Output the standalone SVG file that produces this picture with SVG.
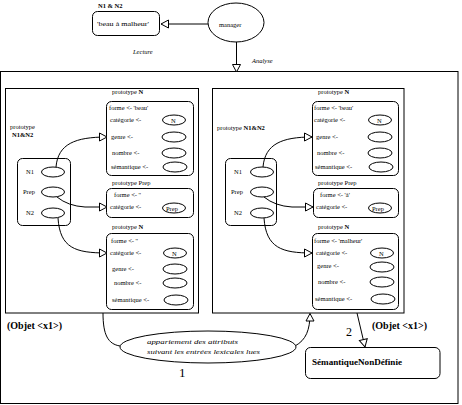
<svg xmlns="http://www.w3.org/2000/svg" width="462" height="405" viewBox="0 0 462 405">
<style>
text{font-family:"Liberation Serif","Times New Roman",serif;fill:#000}
.s{font-size:6.5px}
.b{font-weight:bold}
.i{font-style:italic}
.sh{fill:#fff;stroke:#000;stroke-width:1}
.ln{fill:none;stroke:#000;stroke-width:1}
</style>
<defs>
<marker id="a" markerUnits="userSpaceOnUse" markerWidth="10" markerHeight="10" refX="8" refY="4.5" orient="auto" overflow="visible">
<path d="M0.5,0.5 L8,4.5 L0.5,8.5 z" fill="#fff" stroke="#000"/>
</marker>
</defs>
<rect width="462" height="405" fill="#fff"/>

<g id="outer">
<rect class="sh" x="0.5" y="71.5" width="457.5" height="332"/>
</g>

<g id="connectors">
<line class="ln" x1="208" y1="24" x2="161" y2="24" marker-end="url(#a)"/>
<line class="ln" x1="236.5" y1="42" x2="236.5" y2="72" marker-end="url(#a)"/>
</g>

<g id="n1n2">
<text class="s b" x="98" y="8">N1 &amp; N2</text>
<rect class="sh" x="92.5" y="11.5" width="67" height="24" rx="5"/>
<text class="s" x="97" y="26" textLength="52" lengthAdjust="spacingAndGlyphs">'beau à malheur'</text>
</g>
<g id="manager">
<ellipse class="sh" cx="236" cy="22.5" rx="28" ry="19.5"/>
<text class="s" x="219" y="27">manager</text>
</g>
<text class="s i" x="133" y="54">Lecture</text>
<text class="s i" x="252" y="63">Analyse</text>

<g id="left">
<rect class="sh" x="5.5" y="88.5" width="193" height="224.5"/>
<text class="s" x="10" y="129">prototype</text>
<text class="s b" x="12" y="137">N1&amp;N2</text>
<g id="l-nbox">
<rect class="sh" x="17.5" y="158.5" width="53" height="67" rx="5"/>
<text class="s" x="26" y="174">N1</text>
<ellipse class="sh" cx="53" cy="172" rx="11.5" ry="5"/>
<text class="s" x="23" y="194">Prep</text>
<ellipse class="sh" cx="53" cy="192" rx="11.5" ry="5"/>
<text class="s" x="26" y="215">N2</text>
<ellipse class="sh" cx="53" cy="213" rx="11.5" ry="5"/>
</g>
<g id="l-protoN1">
<text class="s" x="112" y="94">prototype <tspan class="b">N</tspan></text>
<rect class="sh" x="106.5" y="101.5" width="87" height="74" rx="5"/>
<text class="s" x="109" y="110">forme &lt;- 'beau'</text>
<text class="s" x="110" y="122">catégorie &lt;-</text>
<ellipse class="sh" cx="174" cy="120" rx="11.5" ry="5"/>
<text class="s" x="171" y="122.5">N</text>
<text class="s" x="111" y="139">genre &lt;-</text>
<ellipse class="sh" cx="174" cy="137" rx="12" ry="5"/>
<text class="s" x="112" y="155">nombre &lt;-</text>
<ellipse class="sh" cx="174" cy="153" rx="12" ry="5"/>
<text class="s" x="111" y="169">sémantique &lt;-</text>
<ellipse class="sh" cx="175" cy="167" rx="12" ry="5"/>
</g>
<g id="l-protoPrep">
<text class="s" x="112" y="185">prototype Prep</text>
<rect class="sh" x="106.5" y="188.5" width="87" height="29" rx="5"/>
<text class="s" x="114" y="197">forme &lt;- ''</text>
<text class="s" x="110" y="209">catégorie &lt;-</text>
<ellipse class="sh" cx="174" cy="208" rx="11.5" ry="5"/>
<text class="s" x="166" y="210.5">Prep</text>
</g>
<g id="l-protoN2">
<text class="s" x="112" y="229">prototype <tspan class="b">N</tspan></text>
<rect class="sh" x="106.5" y="233.5" width="87" height="76" rx="5"/>
<text class="s" x="111" y="243">forme &lt;- ''</text>
<text class="s" x="110" y="255">catégorie &lt;-</text>
<ellipse class="sh" cx="175" cy="253" rx="11.5" ry="5"/>
<text class="s" x="172" y="255.5">N</text>
<text class="s" x="112" y="271">genre &lt;-</text>
<ellipse class="sh" cx="175" cy="269" rx="12" ry="5"/>
<text class="s" x="114" y="285">nombre &lt;-</text>
<ellipse class="sh" cx="175" cy="283" rx="12" ry="5"/>
<text class="s" x="112" y="302">sémantique &lt;-</text>
<ellipse class="sh" cx="176" cy="300" rx="12" ry="5"/>
</g>
</g>

<g id="right">
<rect class="sh" x="212.5" y="88.5" width="191.5" height="224.5"/>
<text class="s" x="217" y="130">prototype <tspan class="b">N1&amp;N2</tspan></text>
<g id="r-nbox">
<rect class="sh" x="225.5" y="158.5" width="51" height="67" rx="5"/>
<text class="s" x="234" y="174">N1</text>
<ellipse class="sh" cx="262" cy="172" rx="11.5" ry="5"/>
<text class="s" x="231" y="194">Prep</text>
<ellipse class="sh" cx="262" cy="192" rx="11.5" ry="5"/>
<text class="s" x="234" y="215">N2</text>
<ellipse class="sh" cx="262" cy="213" rx="11.5" ry="5"/>
</g>
<g id="r-protoN1">
<text class="s" x="318" y="94">prototype <tspan class="b">N</tspan></text>
<rect class="sh" x="312.5" y="101.5" width="86" height="74" rx="5"/>
<text class="s" x="314" y="110">forme &lt;- 'beau'</text>
<text class="s" x="314" y="122">catégorie &lt;-</text>
<ellipse class="sh" cx="380" cy="120" rx="11.5" ry="5"/>
<text class="s" x="377" y="122.5">N</text>
<text class="s" x="316" y="139">genre &lt;-</text>
<ellipse class="sh" cx="380" cy="137" rx="12" ry="5"/>
<text class="s" x="317" y="155">nombre &lt;-</text>
<ellipse class="sh" cx="380" cy="153" rx="12" ry="5"/>
<text class="s" x="315" y="169">sémantique &lt;-</text>
<ellipse class="sh" cx="381" cy="167" rx="12" ry="5"/>
</g>
<g id="r-protoPrep">
<text class="s" x="318" y="185">prototype Prep</text>
<rect class="sh" x="313.5" y="188.5" width="85" height="29" rx="5"/>
<text class="s" x="320" y="197">forme &lt;- 'à'</text>
<text class="s" x="316" y="209">catégorie &lt;-</text>
<ellipse class="sh" cx="380" cy="208" rx="11.5" ry="5"/>
<text class="s" x="372" y="210.5">Prep</text>
</g>
<g id="r-protoN2">
<text class="s" x="318" y="229">prototype <tspan class="b">N</tspan></text>
<rect class="sh" x="312.5" y="233.5" width="86" height="76" rx="5"/>
<text class="s" x="314" y="243">forme &lt;- 'malheur'</text>
<text class="s" x="316" y="255">catégorie &lt;-</text>
<ellipse class="sh" cx="382" cy="253" rx="11.5" ry="5"/>
<text class="s" x="379" y="255.5">N</text>
<text class="s" x="317" y="268">genre &lt;-</text>
<ellipse class="sh" cx="382" cy="267" rx="12" ry="5"/>
<text class="s" x="318" y="284">nombre &lt;-</text>
<ellipse class="sh" cx="382" cy="282" rx="12" ry="5"/>
<text class="s" x="315" y="301">sémantique &lt;-</text>
<ellipse class="sh" cx="383" cy="299" rx="12" ry="5"/>
</g>
</g>

<g id="inner-connectors">
<path class="ln" d="M56,167 C58,144 75,137 107,137" marker-end="url(#a)"/>
<path class="ln" d="M57,197 Q68,206 85,207 L107,207" marker-end="url(#a)"/>
<path class="ln" d="M58,218 C60,248 75,253 107,253" marker-end="url(#a)"/>
<path class="ln" d="M263,167 C265,144 282,137 312,137" marker-end="url(#a)"/>
<path class="ln" d="M264,197 Q275,206 292,207 L313,207" marker-end="url(#a)"/>
<path class="ln" d="M264,218 C266,248 282,253 312,253" marker-end="url(#a)"/>
<path class="ln" d="M103,313 C103,335 108,344 120,346"/>
<path class="ln" d="M295,346 C306,340 310,330 310,313.5" marker-end="url(#a)"/>
<line class="ln" x1="357" y1="313" x2="365" y2="347" marker-end="url(#a)"/>
</g>

<g id="appariement">
<ellipse class="sh" cx="208" cy="347" rx="88" ry="16"/>
<text class="i" font-size="7" x="147" y="344" textLength="91" lengthAdjust="spacingAndGlyphs">appariement des attributs</text>
<text class="i" font-size="7" x="147" y="354" textLength="113" lengthAdjust="spacingAndGlyphs">suivant les entrées lexicales lues</text>
</g>
<text font-size="13" x="179" y="377">1</text>
<text font-size="12" x="346" y="336">2</text>
<text class="b" font-size="10" x="7" y="329">(Objet &lt;x1&gt;)</text>
<text class="b" font-size="10" x="372" y="329">(Objet &lt;x1&gt;)</text>

<g id="semantique">
<rect class="sh" x="305.5" y="347.5" width="134.5" height="31" rx="5"/>
<text class="b" font-size="9" x="312" y="365" textLength="90" lengthAdjust="spacingAndGlyphs">SémantiqueNonDéfinie</text>
</g>
</svg>
